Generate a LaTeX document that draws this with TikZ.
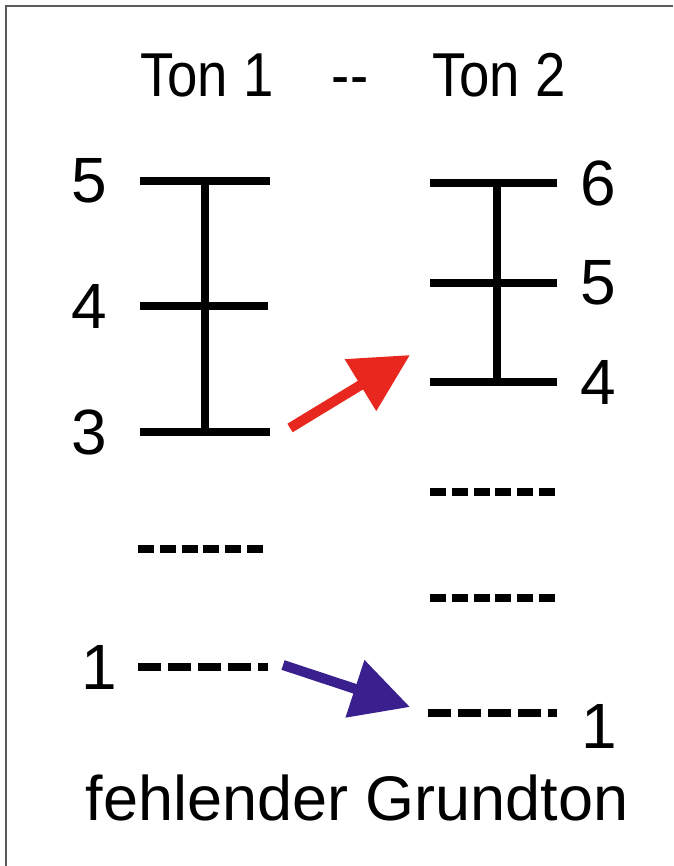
\documentclass[tikz,border=0pt]{standalone}
\usepackage{fontspec}
\setmainfont{Liberation Sans}
\usetikzlibrary{arrows.meta,positioning}
\definecolor{ShiftRed} {HTML}{E8281E}
\definecolor{ShiftBlue}{HTML}{3A1F8F}
\definecolor{FrameGray}{HTML}{5A5A5A}

\begin{document}
\begin{tikzpicture}[x=1pt,y=-1pt,
  bar/.style={line width=8pt},
  ghost/.style={line width=8pt,dash pattern=on 16pt off 5.8pt},
  root/.style={line width=8pt,dash pattern=on 23pt off 7pt},
  num/.style={inner sep=0pt,font=\fontsize{64}{64}\selectfont},
  head/.style={inner sep=0pt,anchor=base,xscale=0.88,font=\fontsize{62}{62}\selectfont},
  arr/.style={line width=10pt,-{Triangle[length=58pt,width=58pt]}}
]
  \useasboundingbox (0,0) rectangle (673,866);
  \fill[white] (0,0) rectangle (673,866);
  \draw[FrameGray,line width=2pt] (6,866) -- (6,6) -- (673,6);

  % headings
  \node[head] (ton1) at (207,97) {Ton 1};
  \node[head] (dash2) at (350,97) {-\kern1pt-};
  \node[head] (ton2) at (499,97) {Ton 2};

  % Ton 1 levels
  \coordinate (a5) at (140,181);
  \coordinate (a4) at (140,306);
  \coordinate (a3) at (140,432);
  \coordinate (a2) at (138,549);
  \coordinate (a1) at (138,667);
  \draw[bar] (a5) -- ++(130,0);
  \draw[bar] (a4) -- ++(128,0);
  \draw[bar] (a3) -- ++(130,0);
  \draw[bar] ([xshift=65pt]a5) -- ([xshift=65pt]a3);
  \draw[ghost] (a2) -- ++(130,0);
  \draw[root] (a1) -- ++(130,0);

  \node[num, left=33pt of a5] (n5) {5};
  \node[num, left=33pt of a4] (n4) {4};
  \node[num, left=33pt of a3] (n3) {3};
  \node[num, left=21pt of a1] (n1) {1};

  % Ton 2 levels
  \coordinate (b6) at (430,183);
  \coordinate (b5) at (430,283);
  \coordinate (b4) at (430,382);
  \coordinate (b3) at (430,492);
  \coordinate (b2) at (430,598);
  \coordinate (b1) at (428,713);
  \draw[bar] (b6) -- ++(127,0);
  \draw[bar] (b5) -- ++(127,0);
  \draw[bar] (b4) -- ++(127,0);
  \draw[bar] ([xshift=67pt]b6) -- ([xshift=67pt]b4);
  \draw[ghost] (b3) -- ++(125,0);
  \draw[ghost] (b2) -- ++(125,0);
  \draw[root] (b1) -- ++(129,0);

  \node[num, right=150pt of b6] (m6) {6};
  \node[num, right=150pt of b5] (m5) {5};
  \node[num, right=150pt of b4] (m4) {4};
  \node[num, right=153pt of b1, yshift=-13pt] (m1) {1};

  % shifts
  \draw[arr,ShiftRed] ([xshift=150pt,yshift=4pt]a3) -- ([xshift=-20pt,yshift=27pt]b4);
  \draw[arr,ShiftBlue] ([xshift=145pt,yshift=2pt]a1) -- ([xshift=-18pt,yshift=6pt]b1);

  \node[inner sep=0pt,anchor=base,font=\fontsize{63}{63}\selectfont] (caption)
        at (357,820) {fehlender Grundton};
\end{tikzpicture}
\end{document}
